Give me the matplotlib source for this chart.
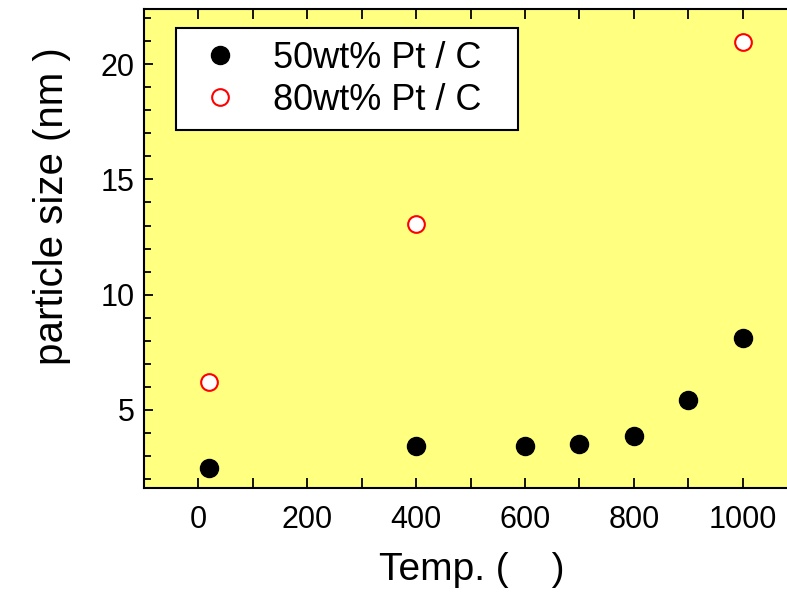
import matplotlib
matplotlib.use("Agg")
import matplotlib.pyplot as plt
from matplotlib.ticker import MultipleLocator

plt.rcParams['font.family'] = ['Liberation Sans', 'DejaVu Sans']

# particle size vs. heat-treatment temperature
temp_50 = [20, 400, 600, 700, 800, 900, 1000]
size_50 = [2.5, 3.42, 3.42, 3.51, 3.87, 5.43, 8.11]

temp_80 = [20, 400, 1000]
size_80 = [6.21, 13.07, 20.97]

label_50 = "50wt% Pt / C"
label_80 = "80wt% Pt / C"

fig = plt.figure(figsize=(7.87, 5.93), dpi=100)
ax = fig.add_axes([144 / 787, 104.7 / 593, 653.2 / 787, 479 / 593])
ax.set_facecolor('#FFFF80')

ax.plot(temp_50, size_50, 'o', ls='none', color='black', ms=13, label=label_50)
ax.plot(temp_80, size_80, 'o', ls='none', mfc='white', mec='red', mew=1.5,
        ms=12, label=label_80)

ax.set_xlim(-100, 1100)
ax.set_ylim(1.6, 22.38)

ax.xaxis.set_major_locator(MultipleLocator(200))
ax.xaxis.set_minor_locator(MultipleLocator(100))
ax.yaxis.set_major_locator(MultipleLocator(5))
ax.yaxis.set_minor_locator(MultipleLocator(1))

ax.tick_params(axis='x', which='both', direction='in', top=True, bottom=True,
               length=7, width=1.3, labelsize=22, pad=12)
ax.tick_params(axis='y', which='major', direction='in', left=True, right=False,
               length=6.5, width=1.3, labelsize=22, pad=7)
ax.tick_params(axis='y', which='minor', direction='in', left=True, right=False,
               length=5, width=1.3)

for sp in ax.spines.values():
    sp.set_linewidth(1.5)

ax.set_xlabel("Temp. (    )", fontsize=28, va='center')
ax.xaxis.set_label_coords(0.502, -0.17)
ax.set_ylabel("particle size (nm )", fontsize=29, va='center')
ax.yaxis.set_label_coords(-0.141, 0.589)

# legend box spans a fixed width in axes coords
leg = ax.legend(loc='upper left', bbox_to_anchor=(0.049, 0.96, 0.524, 0.0),
                mode='expand', fontsize=26,
                frameon=True, fancybox=False, framealpha=1, edgecolor='black',
                borderpad=0.34, handletextpad=0.6, labelspacing=0.2,
                handlelength=1.75, borderaxespad=0)
leg.get_frame().set_linewidth(1.5)

fig.savefig("out.png", dpi=100)
